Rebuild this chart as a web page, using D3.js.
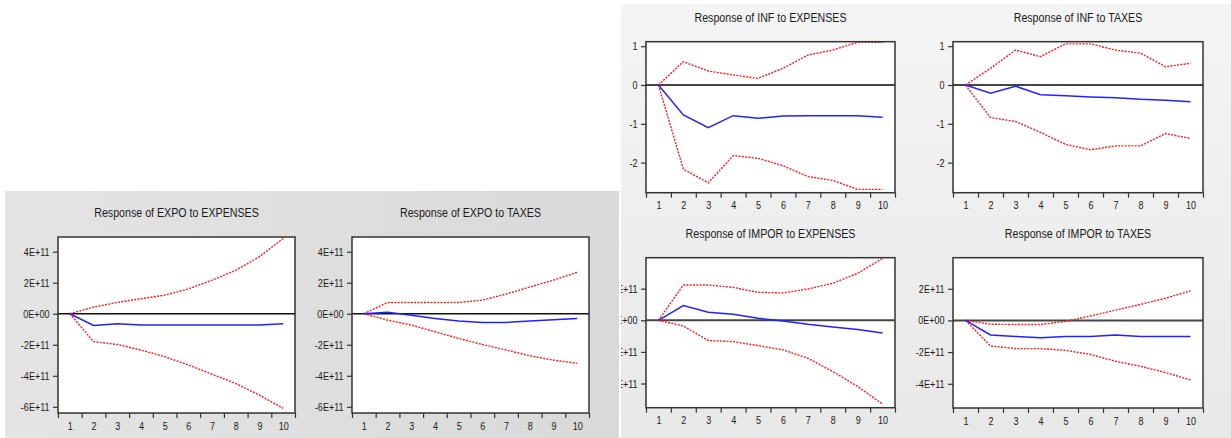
<!DOCTYPE html>
<html>
<head>
<meta charset="utf-8">
<script src="https://cdn.jsdelivr.net/npm/d3@7"></script>
<style>
	body { margin: 0; background: #fff; }
	svg { display: block; }
	.tick text { font-family: "Liberation Sans", Arial, sans-serif; font-size: 11px; fill: #1a1a1a; }
	.title { font-family: "Liberation Sans", Arial, sans-serif; font-size: 13px; fill: #1a1a1a; }
</style>
</head>
<body>
<div id="chart"></div>
<script>
var periods = [1, 2, 3, 4, 5, 6, 7, 8, 9, 10];

// EXPO to EXPENSES (units of 1E+11)
var expoExpResp  = [0, -0.75, -0.65, -0.72, -0.73, -0.73, -0.73, -0.73, -0.72, -0.65];
var expoExpUpper = [0, 0.43, 0.73, 0.97, 1.2, 1.6, 2.17, 2.8, 3.68, 4.86];
var expoExpLower = [0, -1.8, -1.98, -2.34, -2.77, -3.3, -3.9, -4.5, -5.25, -6.1];

// EXPO to TAXES (units of 1E+11)
var expoTaxResp  = [0, 0.09, -0.1, -0.3, -0.47, -0.56, -0.56, -0.47, -0.39, -0.3];
var expoTaxUpper = [0, 0.73, 0.73, 0.73, 0.73, 0.88, 1.27, 1.72, 2.17, 2.67];
var expoTaxLower = [0, -0.41, -0.73, -1.16, -1.59, -1.98, -2.34, -2.71, -2.99, -3.2];

// INF to EXPENSES
var infExpResp  = [0, -0.77, -1.1, -0.79, -0.86, -0.8, -0.79, -0.79, -0.79, -0.83];
var infExpUpper = [0, 0.6, 0.36, 0.26, 0.17, 0.43, 0.77, 0.9, 1.1, 1.1];
var infExpLower = [0, -2.17, -2.52, -1.82, -1.89, -2.08, -2.36, -2.46, -2.69, -2.69];

// INF to TAXES
var infTaxResp  = [0, -0.21, -0.03, -0.25, -0.28, -0.31, -0.33, -0.37, -0.39, -0.43];
var infTaxUpper = [0, 0.43, 0.9, 0.73, 1.06, 1.06, 0.9, 0.82, 0.47, 0.56];
var infTaxLower = [0, -0.84, -0.94, -1.22, -1.53, -1.67, -1.57, -1.57, -1.25, -1.38];

// IMPOR to EXPENSES (units of 1E+11)
var impExpResp  = [0, 0.93, 0.51, 0.38, 0.13, -0.04, -0.25, -0.42, -0.59, -0.8];
var impExpUpper = [0, 2.23, 2.23, 2.08, 1.77, 1.73, 1.98, 2.34, 2.97, 3.92];
var impExpLower = [0, -0.36, -1.28, -1.35, -1.6, -1.87, -2.4, -3.24, -4.19, -5.3];

// IMPOR to TAXES (units of 1E+11)
var impTaxResp  = [0, -0.92, -1.01, -1.1, -1.01, -1.01, -0.92, -1.01, -1.01, -1.01];
var impTaxUpper = [0, -0.24, -0.26, -0.26, -0.06, 0.28, 0.65, 1.01, 1.4, 1.87];
var impTaxLower = [0, -1.61, -1.78, -1.78, -1.89, -2.15, -2.58, -2.9, -3.29, -3.76];

var expoTicks = [4, 2, 0, -2, -4, -6];
var expoTickLabels = ["4E+11", "2E+11", "0E+00", "-2E+11", "-4E+11", "-6E+11"];
var infTicks = [1, 0, -1, -2];
var infTickLabels = ["1", "0", "-1", "-2"];
var imporTicks = [2, 0, -2, -4];
var imporTickLabels = ["2E+11", "0E+00", "-2E+11", "-4E+11"];

var W = 1231, H = 438;
var narrow = 0.82; // squeeze text horizontally, the original font is a narrow one

var svg = d3.select("#chart").append("svg")
	.attr("width", W)
	.attr("height", H);

var defs = svg.append("defs");
var gl = defs.append("linearGradient").attr("id", "gleft")
	.attr("x1", 0).attr("y1", 0).attr("x2", 1).attr("y2", 0);
gl.append("stop").attr("offset", "0%").attr("stop-color", "#e4e4e4");
gl.append("stop").attr("offset", "100%").attr("stop-color", "#d9d9d9");
var gr = defs.append("linearGradient").attr("id", "gright")
	.attr("x1", 0).attr("y1", 0).attr("x2", 0).attr("y2", 1);
gr.append("stop").attr("offset", "0%").attr("stop-color", "#f4f4f4");
gr.append("stop").attr("offset", "100%").attr("stop-color", "#e8e8e8");

var panels = [
	{ id: "pl", x: 5, y: 191, w: 614, h: 247, fill: "url(#gleft)" },
	{ id: "pr", x: 621, y: 4, w: 610, h: 434, fill: "url(#gright)" }
];
panels.forEach(function(p) {
	defs.append("clipPath").attr("id", "clip-" + p.id)
		.append("rect").attr("x", p.x).attr("y", p.y).attr("width", p.w).attr("height", p.h);
	svg.append("rect")
		.attr("x", p.x).attr("y", p.y).attr("width", p.w).attr("height", p.h)
		.attr("fill", p.fill);
	p.g = svg.append("g").attr("clip-path", "url(#clip-" + p.id + ")");
});

var charts = [
	{ panel: 0, title: "Response of EXPO to EXPENSES", resp: expoExpResp, upper: expoExpUpper, lower: expoExpLower,
	  ticks: expoTicks, labels: expoTickLabels, dom: [-6.4, 4.95], x0: 58, x1: 295, y0: 237, y1: 413 },
	{ panel: 0, title: "Response of EXPO to TAXES", resp: expoTaxResp, upper: expoTaxUpper, lower: expoTaxLower,
	  ticks: expoTicks, labels: expoTickLabels, dom: [-6.4, 4.95], x0: 352, x1: 589, y0: 237, y1: 413 },
	{ panel: 1, title: "Response of INF to EXPENSES", resp: infExpResp, upper: infExpUpper, lower: infExpLower,
	  ticks: infTicks, labels: infTickLabels, dom: [-2.776, 1.116], x0: 646, x1: 895, y0: 41.7, y1: 192.7 },
	{ panel: 1, title: "Response of INF to TAXES", resp: infTaxResp, upper: infTaxUpper, lower: infTaxLower,
	  ticks: infTicks, labels: infTickLabels, dom: [-2.776, 1.116], x0: 953, x1: 1203, y0: 41.7, y1: 192.7 },
	{ panel: 1, title: "Response of IMPOR to EXPENSES", resp: impExpResp, upper: impExpUpper, lower: impExpLower,
	  ticks: imporTicks, labels: imporTickLabels, dom: [-5.53, 3.96], x0: 646, x1: 895, y0: 257.7, y1: 407.7 },
	{ panel: 1, title: "Response of IMPOR to TAXES", resp: impTaxResp, upper: impTaxUpper, lower: impTaxLower,
	  ticks: imporTicks, labels: imporTickLabels, dom: [-5.53, 3.96], x0: 953, x1: 1203, y0: 257.7, y1: 408 }
];

charts.forEach(function(c, ci) {
	var g = panels[c.panel].g.append("g");
	var x = d3.scaleLinear().domain([0.5, 10.5]).range([c.x0, c.x1]);
	var y = d3.scaleLinear().domain(c.dom).range([c.y1, c.y0]);

	defs.append("clipPath").attr("id", "plot" + ci)
		.append("rect").attr("x", c.x0).attr("y", c.y0)
		.attr("width", c.x1 - c.x0).attr("height", c.y1 - c.y0);

	g.append("rect")
		.attr("x", c.x0).attr("y", c.y0)
		.attr("width", c.x1 - c.x0).attr("height", c.y1 - c.y0)
		.attr("fill", "#fff");

	// y axis
	g.append("g")
		.attr("transform", "translate(" + c.x0 + ",0)")
		.call(d3.axisLeft(y).tickValues(c.ticks).tickSize(5).tickPadding(4)
			.tickFormat(function(d, i) { return c.labels[i]; }))
		.call(function(a) {
			a.select(".domain").remove();
			a.selectAll("line").attr("stroke", "#333").attr("stroke-width", 1.2);
			a.selectAll("text")
				.attr("x", -8.5 / narrow)
				.attr("transform", "scale(" + narrow + ",1)");
		});

	// x axis: marks between periods, labels at periods
	var edges = d3.range(0.5, 11, 1);
	g.append("g")
		.attr("transform", "translate(0," + c.y1 + ")")
		.call(d3.axisBottom(x).tickValues(edges).tickSize(5).tickFormat(""))
		.call(function(a) {
			a.select(".domain").remove();
			a.selectAll("line").attr("stroke", "#333").attr("stroke-width", 1.2);
		});
	g.append("g")
		.attr("transform", "translate(0," + c.y1 + ")")
		.call(d3.axisBottom(x).tickValues(periods).tickSize(0).tickPadding(9).tickFormat(d3.format("d")))
		.call(function(a) {
			a.select(".domain").remove();
			a.selectAll("text").attr("transform", "scale(" + narrow + ",1)");
		});

	var plot = g.append("g").attr("clip-path", "url(#plot" + ci + ")");

	plot.append("line")
		.attr("x1", c.x0).attr("x2", c.x1)
		.attr("y1", y(0)).attr("y2", y(0))
		.attr("stroke", c.panel === 0 ? "#111" : "#444")
		.attr("stroke-width", c.panel === 0 ? 1.5 : 2);

	var line = d3.line()
		.x(function(d, i) { return x(periods[i]); })
		.y(function(d) { return y(d); });

	[c.upper, c.lower].forEach(function(s) {
		plot.append("path")
			.datum(s)
			.attr("d", line)
			.attr("fill", "none")
			.attr("stroke", "#ff1a1a")
			.attr("stroke-width", 1.4)
			.attr("stroke-dasharray", "2,1.3");
	});
	plot.append("path")
		.datum(c.resp)
		.attr("d", line)
		.attr("fill", "none")
		.attr("stroke", "#2222ff")
		.attr("stroke-width", 1.5);

	g.append("rect")
		.attr("x", c.x0).attr("y", c.y0)
		.attr("width", c.x1 - c.x0).attr("height", c.y1 - c.y0)
		.attr("fill", "none")
		.attr("stroke", "#333")
		.attr("stroke-width", 1.5);

	g.append("text")
		.attr("class", "title")
		.attr("transform", "translate(" + ((c.x0 + c.x1) / 2) + "," + (c.y0 - 20) + ") scale(" + narrow + ",1)")
		.attr("text-anchor", "middle")
		.text(c.title);
});
</script>
</body>
</html>
